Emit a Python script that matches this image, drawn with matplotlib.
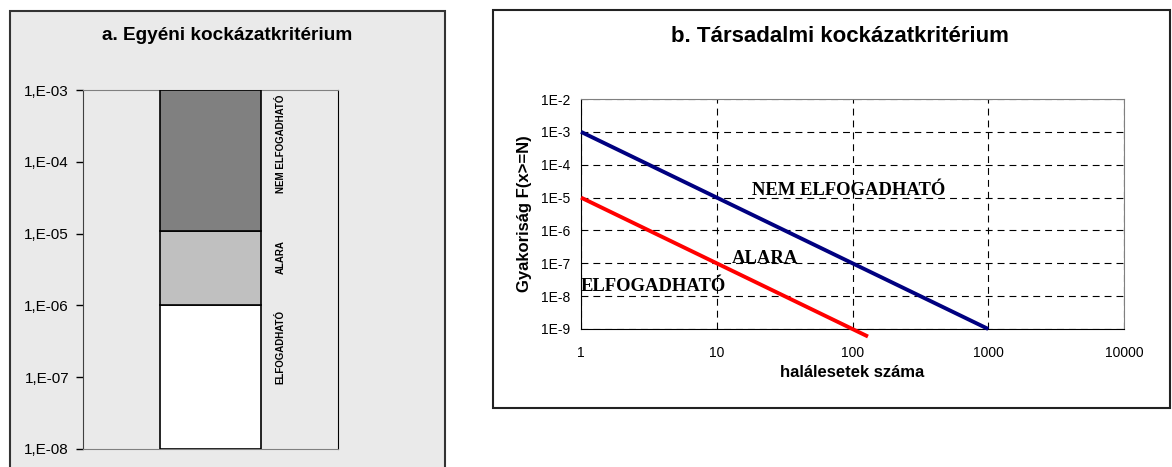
import matplotlib
matplotlib.use("Agg")
import matplotlib.pyplot as plt
from matplotlib.patches import Rectangle
import numpy as np

# ---- data ----
# panel a: stacked segments (bottom, top) on log scale
seg_names = ["ELFOGADHATÓ", "ALARA", "NEM ELFOGADHATÓ"]
seg_bottoms = [1e-8, 1e-6, 1.1e-5]
seg_tops = [1e-6, 1.1e-5, 1e-3]
seg_colors = ["#FFFFFF", "#C0C0C0", "#808080"]
seg_label_y = [10**-6.58, 10**-5.33, 10**-3.75]
a_yticks = [1e-8, 1e-7, 1e-6, 1e-5, 1e-4, 1e-3]
a_yticklabels = ["1,E-08", "1,E-07", "1,E-06", "1,E-05", "1,E-04", "1,E-03"]

# panel b: F-N lines
blue_x = [1, 1000]
blue_y = [1e-3, 1e-9]
red_x = [1, 130]
red_y = [1e-5, 5.9e-10]
b_xticks = [1, 10, 100, 1000, 10000]
b_xticklabels = ["1", "10", "100", "1000", "10000"]
b_yticks = [1e-9, 1e-8, 1e-7, 1e-6, 1e-5, 1e-4, 1e-3, 1e-2]
b_yticklabels = ["1E-9", "1E-8", "1E-7", "1E-6", "1E-5", "1E-4", "1E-3", "1E-2"]
region_labels = ["NEM ELFOGADHATÓ", "ALARA", "ELFOGADHATÓ"]
region_x = [94, 22.7, 3.4]
region_y = [10**-4.77, 10**-6.84, 10**-7.72]

W, H = 1172, 467
fig = plt.figure(figsize=(W/100, H/100), dpi=100)
fig.patch.set_facecolor("white")
plt.rcParams["font.family"] = ["Liberation Sans", "DejaVu Sans"]

def fx(px): return px / W
def fy(py): return 1 - py / H

# panel frames
fig.patches.append(Rectangle((fx(10), fy(480)), fx(445) - fx(10), fy(11) - fy(480),
                             transform=fig.transFigure, facecolor="#EAEAEA",
                             edgecolor="#333333", linewidth=1.5, zorder=-10))
fig.patches.append(Rectangle((fx(493), fy(408)), fx(1170) - fx(493), fy(10) - fy(408),
                             transform=fig.transFigure, facecolor="white",
                             edgecolor="#222222", linewidth=1.5, zorder=-10))

# ---- panel a ----
axa = fig.add_axes([fx(83), fy(449), fx(338) - fx(83), fy(90) - fy(449)])
axa.set_facecolor("#EAEAEA")
axa.set_yscale("log")
axa.set_ylim(1e-8, 1e-3)
axa.set_xlim(-0.5, 0.5)
bw = 101 / 255
for b, t, c in zip(seg_bottoms, seg_tops, seg_colors):
    axa.bar(0, t - b, bottom=b, width=bw, color=c, edgecolor="black", linewidth=1.2, zorder=3)
for name, y in zip(seg_names, seg_label_y):
    axa.text(0.275, y, name, rotation=90, ha="center", va="center",
             fontsize=7, fontweight="bold", zorder=4)
axa.set_xticks([])
axa.set_yticks(a_yticks)
axa.set_yticklabels(a_yticklabels, fontsize=11)
axa.yaxis.set_minor_locator(matplotlib.ticker.NullLocator())
axa.tick_params(axis="y", length=5, width=1, pad=5, colors="black")
for s in ["top", "bottom"]:
    axa.spines[s].set_color("#808080")
axa.spines["left"].set_color("#404040")
axa.spines["right"].set_color("black")
fig.text(fx(227), fy(36), "a. Egyéni kockázatkritérium", ha="center", va="center",
         fontsize=13.7, fontweight="bold")

# ---- panel b ----
axb = fig.add_axes([fx(581), fy(329), fx(1124) - fx(581), fy(99) - fy(329)])
axb.set_facecolor("white")
axb.set_xscale("log")
axb.set_yscale("log")
axb.set_xlim(1, 10000)
axb.set_ylim(1e-9, 1e-2)
axb.plot(blue_x, blue_y, color="#000080", linewidth=2.8, zorder=4, clip_on=False,
         solid_capstyle="butt")
axb.plot(red_x, red_y, color="#FF0000", linewidth=2.8, zorder=4, clip_on=False,
         solid_capstyle="butt")
axb.set_xticks(b_xticks)
axb.set_xticklabels(b_xticklabels, fontsize=10)
axb.set_yticks(b_yticks)
axb.set_yticklabels(b_yticklabels, fontsize=10)
axb.xaxis.set_minor_locator(matplotlib.ticker.NullLocator())
axb.yaxis.set_minor_locator(matplotlib.ticker.NullLocator())
axb.tick_params(axis="x", length=0, pad=12)
axb.tick_params(axis="y", length=0, pad=8)
axb.grid(True, which="major", color="black", linestyle=(0, (6.2, 4.5)), linewidth=0.8)
axb.spines["top"].set_color("#808080")
axb.spines["right"].set_color("#808080")
axb.spines["left"].set_color("black")
axb.spines["bottom"].set_color("black")
for lab, x, y in zip(region_labels, region_x, region_y):
    axb.text(x, y, lab, ha="center", va="center", fontsize=13.4, fontweight="bold",
             family=["Liberation Serif", "DejaVu Serif"], zorder=5)
axb.set_xlabel("halálesetek száma", fontsize=12, fontweight="bold", labelpad=4)
axb.set_ylabel("Gyakoriság F(x>=N)", fontsize=12, fontweight="bold", labelpad=6)
fig.text(fx(840), fy(36), "b. Társadalmi kockázatkritérium", ha="center", va="center",
         fontsize=16, fontweight="bold")

fig.savefig("out.png", dpi=100)
